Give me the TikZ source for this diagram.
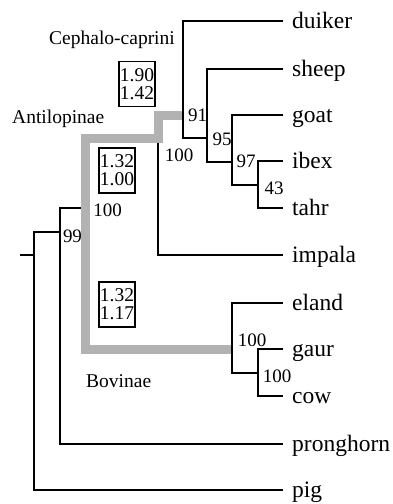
\documentclass[tikz,border=0pt]{standalone}
\usepackage{fontspec}
\setmainfont{Liberation Serif}
\definecolor{cladegray}{gray}{0.7}
\begin{document}
\begin{tikzpicture}[x=1pt,y=-1pt,
  branch/.style={line width=2pt, line join=miter},
  leaf/.style={anchor=west, inner xsep=9pt, inner ysep=0pt, text height=17pt, text depth=2pt,
    font=\fontsize{23.5}{28}\selectfont},
  support/.style={inner sep=0pt, font=\fontsize{19}{22}\selectfont},
  ratio/.style={draw, line width=1.8pt, minimum width=36pt, minimum height=45pt, inner sep=0pt,
    align=center, font=\fontsize{19.5}{18}\selectfont},
  clade/.style={anchor=base west, inner sep=0pt, font=\fontsize{19.5}{22}\selectfont},
  highlight/.style={cladegray, line width=9pt, line join=miter, line cap=butt}]
\useasboundingbox (0,0) rectangle (392,504);

% taxa
\node[leaf] (duiker)    at (283,21)  {duiker};
\node[leaf] (sheep)     at (283,69)  {sheep};
\node[leaf] (goat)      at (283,115) {goat};
\node[leaf] (ibex)      at (283,161) {ibex};
\node[leaf] (tahr)      at (283,208) {tahr};
\node[leaf] (impala)    at (283,255) {impala};
\node[leaf] (eland)     at (283,303) {eland};
\node[leaf] (gaur)      at (283,349) {gaur};
\node[leaf] (cow)       at (283,396) {cow};
\node[leaf] (pronghorn) at (283,444) {pronghorn};
\node[leaf] (pig)       at (283,490) {pig};

% internal nodes
\coordinate (nit)    at (258,184.5);
\coordinate (ngoat)  at (232,162);
\coordinate (nsheep) at (207,138);
\coordinate (nceph)  at (183,115);
\coordinate (nanti)  at (158,138);
\coordinate (ncg)    at (258,372.5);
\coordinate (nbov)   at (232,349.5);
\coordinate (nbovid) at (85,208);
\coordinate (npec)   at (60,232);
\coordinate (nroot)  at (34,255);
\coordinate (stub)   at (20,255);

% branches
\draw[branch] (ibex.west) -| (nit) |- (tahr.west);
\draw[branch] (goat.west) -| (ngoat) |- (nit);
\draw[branch] (sheep.west) -| (nsheep) |- (ngoat);
\draw[branch] (duiker.west) -| (nceph) |- (nsheep);
\draw[branch] (nceph) -| (nanti) |- (impala.west);
\draw[branch] (gaur.west) -| (ncg) |- (cow.west);
\draw[branch] (eland.west) -| (nbov) |- (ncg);
\draw[branch] (nanti) -| (nbovid) |- (nbov);
\draw[branch] (nbovid) -| (npec) |- (pronghorn.west);
\draw[branch] (npec) -| (nroot) |- (pig.west);
\draw[branch] (stub) -- (nroot);

% highlighted path between the two clades
\draw[highlight, shorten <=1pt, shorten >=1pt]
  (nceph) -| (nanti) -| (nbovid) -- (nbovid |- nbov) -- (nbov);

% support values
\node[support] (s91)  at (197.5,115) {91};
\node[support] (s95)  at (222,139.5) {95};
\node[support] (s97)  at (246,161)   {97};
\node[support] (s43)  at (274,188.5) {43};
\node[support] (s100a) at (179,155)  {100};
\node[support] (s100b) at (107.5,210.5) {100};
\node[support] (s99)  at (72.5,236)  {99};
\node[support] (s100c) at (252,340)  {100};
\node[support] (s100d) at (277,376)  {100};

% rate ratios
\node[ratio] (r1) at (137,84)    {1.90\\1.42};
\node[ratio] (r2) at (117,170.5) {1.32\\1.00};
\node[ratio] (r3) at (117,304.5) {1.32\\1.17};

% clade names
\node[clade] (lceph) at (49,44)  {Cephalo-caprini};
\node[clade] (lanti) at (12,123) {Antilopinae};
\node[clade] (lbov)  at (86,387) {Bovinae};
\end{tikzpicture}
\end{document}
